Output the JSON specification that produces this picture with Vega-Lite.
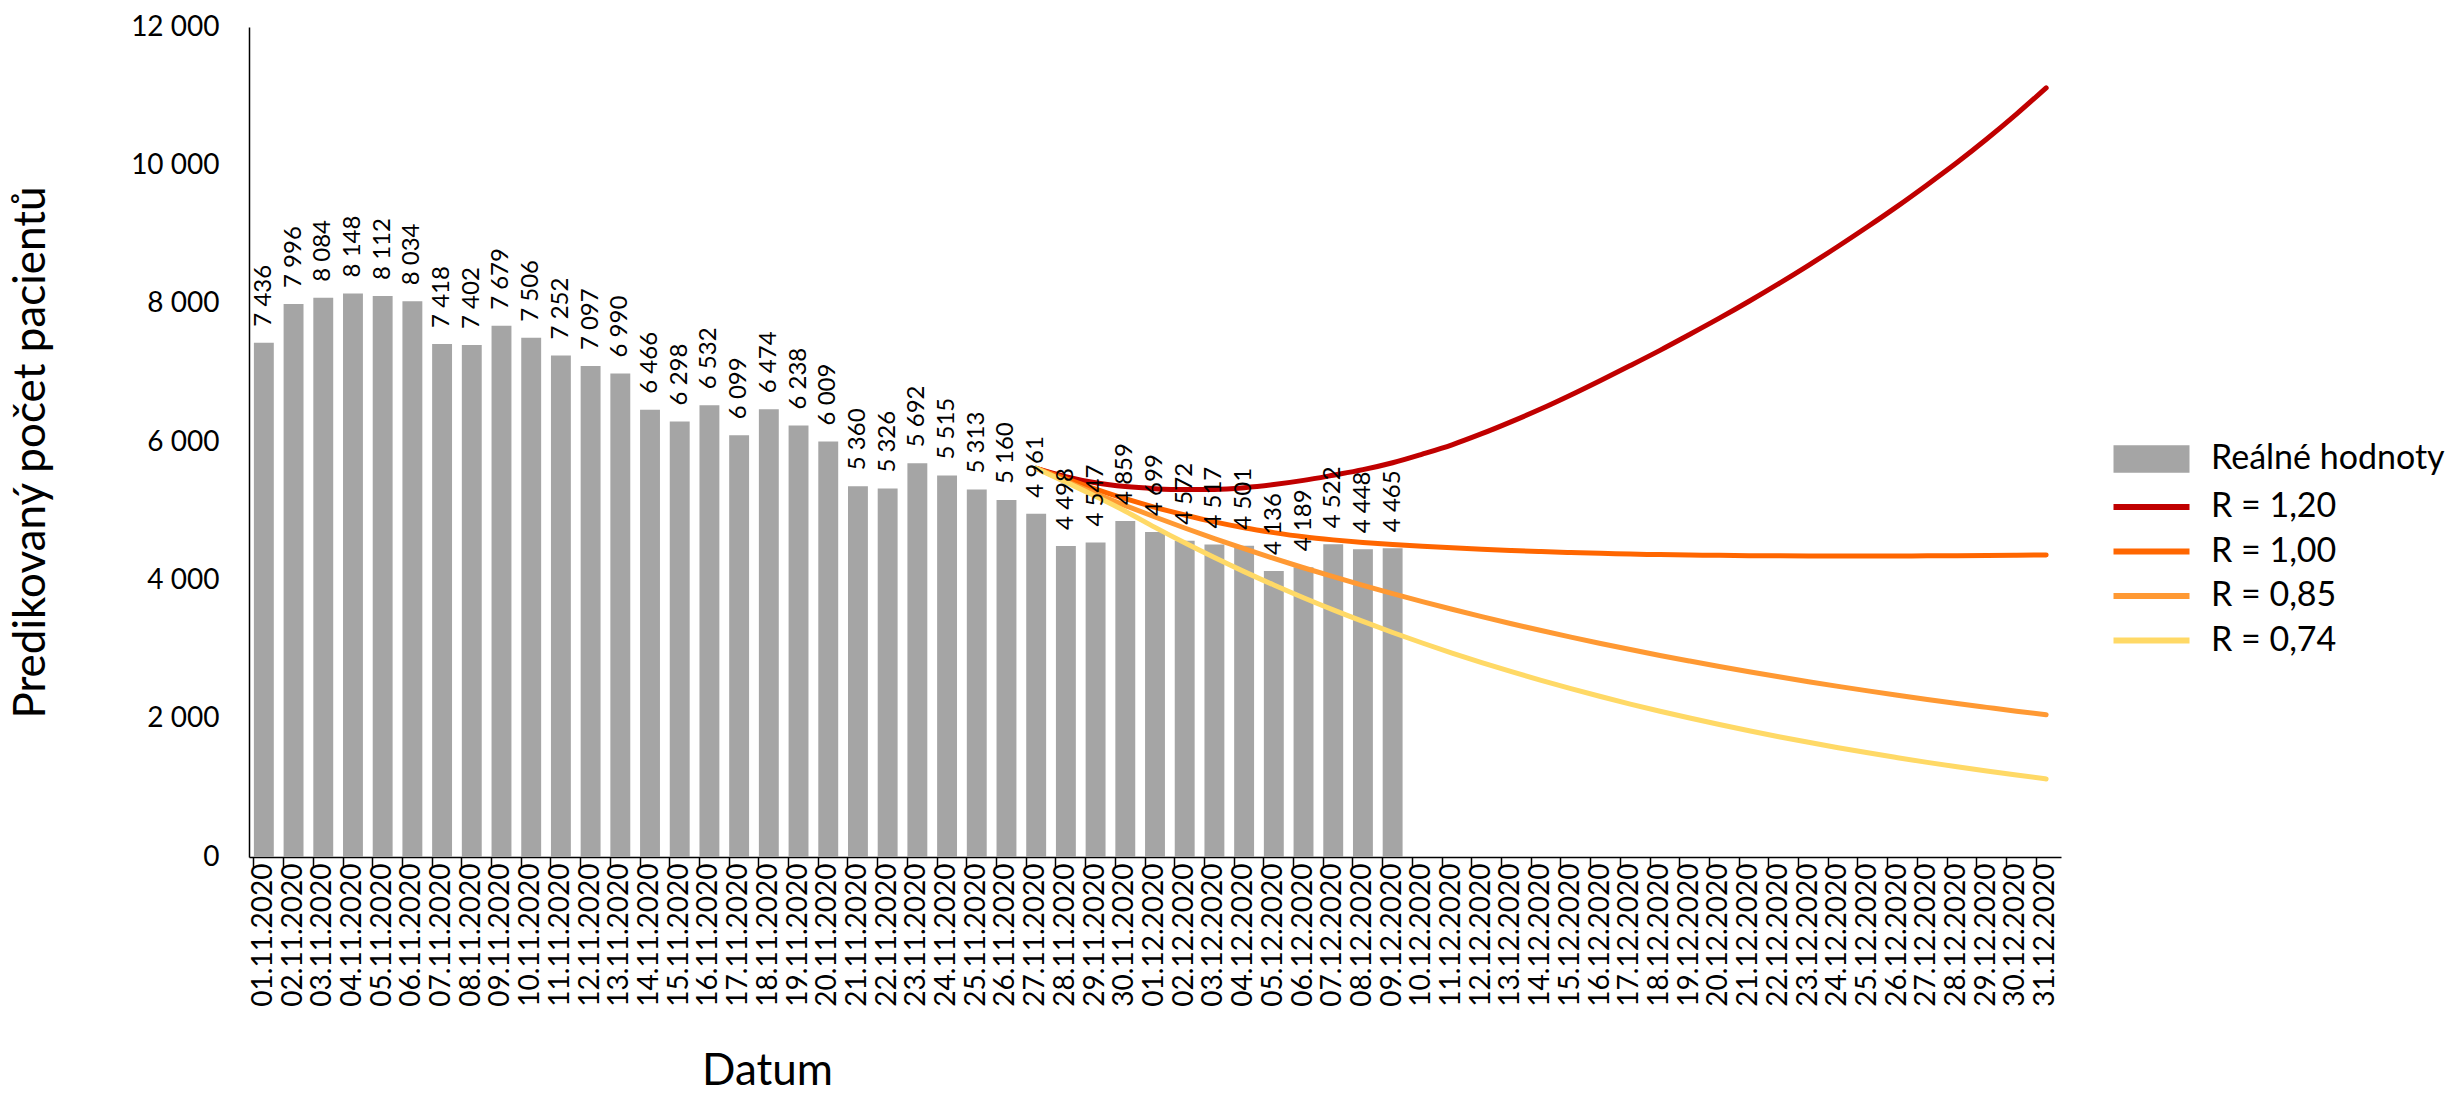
{
  "$schema": "https://vega.github.io/schema/vega-lite/v6.json",
  "width": 1812,
  "height": 830,
  "autosize": {"type": "none"},
  "padding": {"left": 249, "top": 27, "right": 395, "bottom": 237},
  "background": "white",
  "config": {
    "locale": {"number": {"decimal": ",", "thousands": " ", "grouping": [3], "currency": ["", " Kč"]}},
    "font": "Lato",
    "view": {"stroke": null},
    "axis": {"grid": false, "domainColor": "#000000", "tickColor": "#000000", "labelColor": "#000000", "titleColor": "#000000", "labelFont": "Lato", "titleFont": "Lato", "titleFontWeight": "normal", "domainWidth": 1.5, "tickWidth": 1.5},
    "legend": {"labelFont": "Lato", "labelColor": "#000000", "labelFontSize": 34, "padding": 0, "labelLimit": 500}
  },
  "datasets": {
    "bars": [
      {"d": "01.11.2020", "v": 7436, "s": "Reálné hodnoty"},
      {"d": "02.11.2020", "v": 7996, "s": "Reálné hodnoty"},
      {"d": "03.11.2020", "v": 8084, "s": "Reálné hodnoty"},
      {"d": "04.11.2020", "v": 8148, "s": "Reálné hodnoty"},
      {"d": "05.11.2020", "v": 8112, "s": "Reálné hodnoty"},
      {"d": "06.11.2020", "v": 8034, "s": "Reálné hodnoty"},
      {"d": "07.11.2020", "v": 7418, "s": "Reálné hodnoty"},
      {"d": "08.11.2020", "v": 7402, "s": "Reálné hodnoty"},
      {"d": "09.11.2020", "v": 7679, "s": "Reálné hodnoty"},
      {"d": "10.11.2020", "v": 7506, "s": "Reálné hodnoty"},
      {"d": "11.11.2020", "v": 7252, "s": "Reálné hodnoty"},
      {"d": "12.11.2020", "v": 7097, "s": "Reálné hodnoty"},
      {"d": "13.11.2020", "v": 6990, "s": "Reálné hodnoty"},
      {"d": "14.11.2020", "v": 6466, "s": "Reálné hodnoty"},
      {"d": "15.11.2020", "v": 6298, "s": "Reálné hodnoty"},
      {"d": "16.11.2020", "v": 6532, "s": "Reálné hodnoty"},
      {"d": "17.11.2020", "v": 6099, "s": "Reálné hodnoty"},
      {"d": "18.11.2020", "v": 6474, "s": "Reálné hodnoty"},
      {"d": "19.11.2020", "v": 6238, "s": "Reálné hodnoty"},
      {"d": "20.11.2020", "v": 6009, "s": "Reálné hodnoty"},
      {"d": "21.11.2020", "v": 5360, "s": "Reálné hodnoty"},
      {"d": "22.11.2020", "v": 5326, "s": "Reálné hodnoty"},
      {"d": "23.11.2020", "v": 5692, "s": "Reálné hodnoty"},
      {"d": "24.11.2020", "v": 5515, "s": "Reálné hodnoty"},
      {"d": "25.11.2020", "v": 5313, "s": "Reálné hodnoty"},
      {"d": "26.11.2020", "v": 5160, "s": "Reálné hodnoty"},
      {"d": "27.11.2020", "v": 4961, "s": "Reálné hodnoty"},
      {"d": "28.11.2020", "v": 4498, "s": "Reálné hodnoty"},
      {"d": "29.11.2020", "v": 4547, "s": "Reálné hodnoty"},
      {"d": "30.11.2020", "v": 4859, "s": "Reálné hodnoty"},
      {"d": "01.12.2020", "v": 4699, "s": "Reálné hodnoty"},
      {"d": "02.12.2020", "v": 4572, "s": "Reálné hodnoty"},
      {"d": "03.12.2020", "v": 4517, "s": "Reálné hodnoty"},
      {"d": "04.12.2020", "v": 4501, "s": "Reálné hodnoty"},
      {"d": "05.12.2020", "v": 4136, "s": "Reálné hodnoty"},
      {"d": "06.12.2020", "v": 4189, "s": "Reálné hodnoty"},
      {"d": "07.12.2020", "v": 4522, "s": "Reálné hodnoty"},
      {"d": "08.12.2020", "v": 4448, "s": "Reálné hodnoty"},
      {"d": "09.12.2020", "v": 4465, "s": "Reálné hodnoty"}
    ],
    "lines": [
      {"d": "27.11.2020", "s": "R = 1,20", "v": 5620}, {"d": "28.11.2020", "s": "R = 1,20", "v": 5500}, {"d": "29.11.2020", "s": "R = 1,20", "v": 5410}, {"d": "30.11.2020", "s": "R = 1,20", "v": 5355},
      {"d": "01.12.2020", "s": "R = 1,20", "v": 5325}, {"d": "02.12.2020", "s": "R = 1,20", "v": 5312}, {"d": "03.12.2020", "s": "R = 1,20", "v": 5315}, {"d": "04.12.2020", "s": "R = 1,20", "v": 5340},
      {"d": "05.12.2020", "s": "R = 1,20", "v": 5385}, {"d": "06.12.2020", "s": "R = 1,20", "v": 5445}, {"d": "07.12.2020", "s": "R = 1,20", "v": 5520}, {"d": "08.12.2020", "s": "R = 1,20", "v": 5600},
      {"d": "09.12.2020", "s": "R = 1,20", "v": 5700}, {"d": "10.12.2020", "s": "R = 1,20", "v": 5825}, {"d": "11.12.2020", "s": "R = 1,20", "v": 5960}, {"d": "12.12.2020", "s": "R = 1,20", "v": 6120},
      {"d": "13.12.2020", "s": "R = 1,20", "v": 6295}, {"d": "14.12.2020", "s": "R = 1,20", "v": 6480}, {"d": "15.12.2020", "s": "R = 1,20", "v": 6680}, {"d": "16.12.2020", "s": "R = 1,20", "v": 6890},
      {"d": "17.12.2020", "s": "R = 1,20", "v": 7105}, {"d": "18.12.2020", "s": "R = 1,20", "v": 7325}, {"d": "19.12.2020", "s": "R = 1,20", "v": 7555}, {"d": "20.12.2020", "s": "R = 1,20", "v": 7790},
      {"d": "21.12.2020", "s": "R = 1,20", "v": 8035}, {"d": "22.12.2020", "s": "R = 1,20", "v": 8290}, {"d": "23.12.2020", "s": "R = 1,20", "v": 8555}, {"d": "24.12.2020", "s": "R = 1,20", "v": 8830},
      {"d": "25.12.2020", "s": "R = 1,20", "v": 9115}, {"d": "26.12.2020", "s": "R = 1,20", "v": 9410}, {"d": "27.12.2020", "s": "R = 1,20", "v": 9720}, {"d": "28.12.2020", "s": "R = 1,20", "v": 10040},
      {"d": "29.12.2020", "s": "R = 1,20", "v": 10380}, {"d": "30.12.2020", "s": "R = 1,20", "v": 10740}, {"d": "31.12.2020", "s": "R = 1,20", "v": 11120},

      {"d": "27.11.2020", "s": "R = 1,00", "v": 5620}, {"d": "28.11.2020", "s": "R = 1,00", "v": 5470}, {"d": "29.11.2020", "s": "R = 1,00", "v": 5320}, {"d": "30.11.2020", "s": "R = 1,00", "v": 5180},
      {"d": "01.12.2020", "s": "R = 1,00", "v": 5055}, {"d": "02.12.2020", "s": "R = 1,00", "v": 4945}, {"d": "03.12.2020", "s": "R = 1,00", "v": 4845}, {"d": "04.12.2020", "s": "R = 1,00", "v": 4760},
      {"d": "05.12.2020", "s": "R = 1,00", "v": 4690}, {"d": "06.12.2020", "s": "R = 1,00", "v": 4630}, {"d": "07.12.2020", "s": "R = 1,00", "v": 4585}, {"d": "08.12.2020", "s": "R = 1,00", "v": 4548},
      {"d": "09.12.2020", "s": "R = 1,00", "v": 4518}, {"d": "10.12.2020", "s": "R = 1,00", "v": 4492}, {"d": "11.12.2020", "s": "R = 1,00", "v": 4470}, {"d": "12.12.2020", "s": "R = 1,00", "v": 4450},
      {"d": "13.12.2020", "s": "R = 1,00", "v": 4432}, {"d": "14.12.2020", "s": "R = 1,00", "v": 4416}, {"d": "15.12.2020", "s": "R = 1,00", "v": 4402}, {"d": "16.12.2020", "s": "R = 1,00", "v": 4390},
      {"d": "17.12.2020", "s": "R = 1,00", "v": 4380}, {"d": "18.12.2020", "s": "R = 1,00", "v": 4372}, {"d": "19.12.2020", "s": "R = 1,00", "v": 4366}, {"d": "20.12.2020", "s": "R = 1,00", "v": 4361},
      {"d": "21.12.2020", "s": "R = 1,00", "v": 4357}, {"d": "22.12.2020", "s": "R = 1,00", "v": 4354}, {"d": "23.12.2020", "s": "R = 1,00", "v": 4352}, {"d": "24.12.2020", "s": "R = 1,00", "v": 4351},
      {"d": "25.12.2020", "s": "R = 1,00", "v": 4351}, {"d": "26.12.2020", "s": "R = 1,00", "v": 4352}, {"d": "27.12.2020", "s": "R = 1,00", "v": 4354}, {"d": "28.12.2020", "s": "R = 1,00", "v": 4357},
      {"d": "29.12.2020", "s": "R = 1,00", "v": 4360}, {"d": "30.12.2020", "s": "R = 1,00", "v": 4364}, {"d": "31.12.2020", "s": "R = 1,00", "v": 4368},

      {"d": "27.11.2020", "s": "R = 0,85", "v": 5620}, {"d": "28.11.2020", "s": "R = 0,85", "v": 5433}, {"d": "29.11.2020", "s": "R = 0,85", "v": 5253}, {"d": "30.11.2020", "s": "R = 0,85", "v": 5081},
      {"d": "01.12.2020", "s": "R = 0,85", "v": 4916}, {"d": "02.12.2020", "s": "R = 0,85", "v": 4757}, {"d": "03.12.2020", "s": "R = 0,85", "v": 4604}, {"d": "04.12.2020", "s": "R = 0,85", "v": 4458},
      {"d": "05.12.2020", "s": "R = 0,85", "v": 4317}, {"d": "06.12.2020", "s": "R = 0,85", "v": 4182}, {"d": "07.12.2020", "s": "R = 0,85", "v": 4053}, {"d": "08.12.2020", "s": "R = 0,85", "v": 3928},
      {"d": "09.12.2020", "s": "R = 0,85", "v": 3808}, {"d": "10.12.2020", "s": "R = 0,85", "v": 3693}, {"d": "11.12.2020", "s": "R = 0,85", "v": 3582}, {"d": "12.12.2020", "s": "R = 0,85", "v": 3475},
      {"d": "13.12.2020", "s": "R = 0,85", "v": 3372}, {"d": "14.12.2020", "s": "R = 0,85", "v": 3274}, {"d": "15.12.2020", "s": "R = 0,85", "v": 3179}, {"d": "16.12.2020", "s": "R = 0,85", "v": 3087},
      {"d": "17.12.2020", "s": "R = 0,85", "v": 2999}, {"d": "18.12.2020", "s": "R = 0,85", "v": 2914}, {"d": "19.12.2020", "s": "R = 0,85", "v": 2833}, {"d": "20.12.2020", "s": "R = 0,85", "v": 2754},
      {"d": "21.12.2020", "s": "R = 0,85", "v": 2678}, {"d": "22.12.2020", "s": "R = 0,85", "v": 2605}, {"d": "23.12.2020", "s": "R = 0,85", "v": 2535}, {"d": "24.12.2020", "s": "R = 0,85", "v": 2467},
      {"d": "25.12.2020", "s": "R = 0,85", "v": 2402}, {"d": "26.12.2020", "s": "R = 0,85", "v": 2339}, {"d": "27.12.2020", "s": "R = 0,85", "v": 2278}, {"d": "28.12.2020", "s": "R = 0,85", "v": 2219},
      {"d": "29.12.2020", "s": "R = 0,85", "v": 2163}, {"d": "30.12.2020", "s": "R = 0,85", "v": 2108}, {"d": "31.12.2020", "s": "R = 0,85", "v": 2056},

      {"d": "27.11.2020", "s": "R = 0,74", "v": 5620}, {"d": "28.11.2020", "s": "R = 0,74", "v": 5420}, {"d": "29.11.2020", "s": "R = 0,74", "v": 5215}, {"d": "30.11.2020", "s": "R = 0,74", "v": 5000},
      {"d": "01.12.2020", "s": "R = 0,74", "v": 4766}, {"d": "02.12.2020", "s": "R = 0,74", "v": 4542}, {"d": "03.12.2020", "s": "R = 0,74", "v": 4329}, {"d": "04.12.2020", "s": "R = 0,74", "v": 4126},
      {"d": "05.12.2020", "s": "R = 0,74", "v": 3933}, {"d": "06.12.2020", "s": "R = 0,74", "v": 3749}, {"d": "07.12.2020", "s": "R = 0,74", "v": 3573}, {"d": "08.12.2020", "s": "R = 0,74", "v": 3406},
      {"d": "09.12.2020", "s": "R = 0,74", "v": 3246}, {"d": "10.12.2020", "s": "R = 0,74", "v": 3094}, {"d": "11.12.2020", "s": "R = 0,74", "v": 2949}, {"d": "12.12.2020", "s": "R = 0,74", "v": 2811},
      {"d": "13.12.2020", "s": "R = 0,74", "v": 2679}, {"d": "14.12.2020", "s": "R = 0,74", "v": 2554}, {"d": "15.12.2020", "s": "R = 0,74", "v": 2434}, {"d": "16.12.2020", "s": "R = 0,74", "v": 2320},
      {"d": "17.12.2020", "s": "R = 0,74", "v": 2211}, {"d": "18.12.2020", "s": "R = 0,74", "v": 2108}, {"d": "19.12.2020", "s": "R = 0,74", "v": 2009}, {"d": "20.12.2020", "s": "R = 0,74", "v": 1915},
      {"d": "21.12.2020", "s": "R = 0,74", "v": 1825}, {"d": "22.12.2020", "s": "R = 0,74", "v": 1739}, {"d": "23.12.2020", "s": "R = 0,74", "v": 1658}, {"d": "24.12.2020", "s": "R = 0,74", "v": 1580},
      {"d": "25.12.2020", "s": "R = 0,74", "v": 1506}, {"d": "26.12.2020", "s": "R = 0,74", "v": 1436}, {"d": "27.12.2020", "s": "R = 0,74", "v": 1368}, {"d": "28.12.2020", "s": "R = 0,74", "v": 1304},
      {"d": "29.12.2020", "s": "R = 0,74", "v": 1243}, {"d": "30.12.2020", "s": "R = 0,74", "v": 1185}, {"d": "31.12.2020", "s": "R = 0,74", "v": 1129}
    ]
  },
  "encoding": {
    "x": {
      "field": "d", "type": "nominal",
      "scale": {
        "domain": ["01.11.2020","02.11.2020","03.11.2020","04.11.2020","05.11.2020","06.11.2020","07.11.2020","08.11.2020","09.11.2020","10.11.2020","11.11.2020","12.11.2020","13.11.2020","14.11.2020","15.11.2020","16.11.2020","17.11.2020","18.11.2020","19.11.2020","20.11.2020","21.11.2020","22.11.2020","23.11.2020","24.11.2020","25.11.2020","26.11.2020","27.11.2020","28.11.2020","29.11.2020","30.11.2020","01.12.2020","02.12.2020","03.12.2020","04.12.2020","05.12.2020","06.12.2020","07.12.2020","08.12.2020","09.12.2020","10.12.2020","11.12.2020","12.12.2020","13.12.2020","14.12.2020","15.12.2020","16.12.2020","17.12.2020","18.12.2020","19.12.2020","20.12.2020","21.12.2020","22.12.2020","23.12.2020","24.12.2020","25.12.2020","26.12.2020","27.12.2020","28.12.2020","29.12.2020","30.12.2020","31.12.2020"],
        "paddingInner": 0.33, "paddingOuter": 0.165
      },
      "axis": {
        "title": "Datum", "titleFontSize": 44, "titleX": 518, "titleY": 227, "titleAlign": "center", "titleBaseline": "alphabetic", "titleAnchor": null,
        "labelAngle": 270, "labelAlign": "right", "labelBaseline": "middle", "labelFontSize": 28, "labelPadding": -4,
        "ticks": true, "tickSize": 10, "bandPosition": 0, "labelOverlap": false
      }
    },
    "y": {
      "field": "v", "type": "quantitative",
      "scale": {"domain": [0, 12000], "nice": false},
      "axis": {
        "title": "Predikovaný počet pacientů", "titleFontSize": 44, "titleX": -205, "titleY": 425, "titleAngle": 270, "titleAlign": "center", "titleBaseline": "alphabetic",
        "values": [0, 2000, 4000, 6000, 8000, 10000, 12000], "format": ",.0f", "labelFontSize": 28, "labelPadding": 30, "ticks": false, "tickSize": 0
      }
    }
  },
  "layer": [
    {
      "data": {"name": "bars"},
      "mark": {"type": "bar"},
      "encoding": {
        "fill": {
          "field": "s", "type": "nominal",
          "scale": {"domain": ["Reálné hodnoty"], "range": ["#A5A5A5"]},
          "legend": {"orient": "none", "legendX": 1857, "legendY": 415, "title": null, "symbolType": "M-1,-1.45L7,-1.45L7,1.45L-1,1.45Z", "symbolSize": 361, "labelOffset": 71, "symbolStrokeWidth": 0, "labelFontSize": 34, "labelLimit": 500}
        }
      }
    },
    {
      "data": {"name": "lines"},
      "mark": {"type": "line", "strokeWidth": 5, "interpolate": "monotone", "strokeCap": "round"},
      "encoding": {
        "stroke": {
          "field": "s", "type": "nominal",
          "scale": {"domain": ["R = 1,20", "R = 1,00", "R = 0,85", "R = 0,74"], "range": ["#C00000", "#FF6600", "#FF9933", "#FFD966"]},
          "legend": {"orient": "none", "legendX": 1857, "legendY": 463, "title": null, "symbolType": "M-1,0L7,0", "symbolSize": 361, "symbolStrokeWidth": 6, "labelOffset": 71, "rowPadding": 10.5, "labelFontSize": 34, "labelLimit": 500}
        }
      }
    },
    {
      "data": {"name": "bars"},
      "mark": {"type": "text", "angle": 270, "align": "left", "baseline": "middle", "dx": 16, "fontSize": 24, "color": "#000000", "font": "Lato"},
      "encoding": {"text": {"field": "v", "type": "quantitative", "format": ","}}
    }
  ]
}
